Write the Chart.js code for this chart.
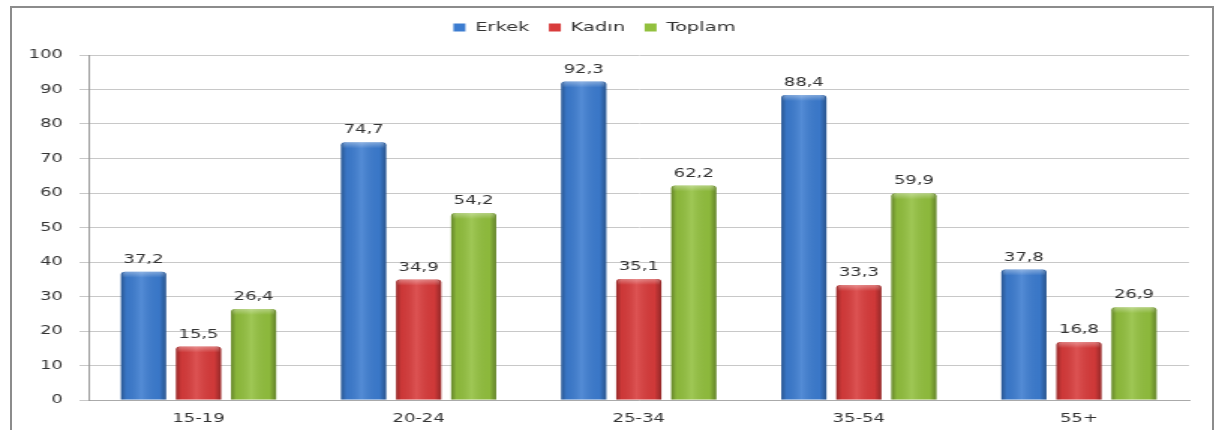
<!DOCTYPE html>
<html>
<head>
<meta charset="utf-8">
<script src="https://cdn.jsdelivr.net/npm/chart.js@4.4.1/dist/chart.umd.min.js"></script>
<style>
  html, body { margin: 0; padding: 0; background: #fff; overflow: hidden; }
  #frame { position: absolute; left: 10px; top: 6px; width: 1204px; height: 440px; border: 2px solid #8c8c8c; box-sizing: border-box; }
  #c { position: absolute; left: 0; top: 0; }
</style>
</head>
<body>
<div id="frame"></div>
<canvas id="c" width="813" height="430" style="width:1219px;height:430px"></canvas>
<script>
// the original picture is stretched sideways, so the canvas is drawn narrow and widened by CSS
const categories = ['15-19', '20-24', '25-34', '35-54', '55+'];
const erkek = [37.2, 74.7, 92.3, 88.4, 37.8];
const kadin = [15.5, 34.9, 35.1, 33.3, 16.8];
const toplam = [26.4, 54.2, 62.2, 59.9, 26.9];
const yTicks = [0, 10, 20, 30, 40, 50, 60, 70, 80, 90, 100];

const FONT = 'DejaVu Sans';
const TEXT = '#333';

// labels above bars, with a comma as decimal mark
const valueLabels = {
  id: 'valueLabels',
  afterDatasetsDraw(chart) {
    const ctx = chart.ctx;
    ctx.save();
    ctx.font = '12px "' + FONT + '"';
    ctx.fillStyle = TEXT;
    ctx.textAlign = 'center';
    ctx.textBaseline = 'bottom';
    chart.data.datasets.forEach((ds, i) => {
      chart.getDatasetMeta(i).data.forEach((bar, j) => {
        ctx.fillText(ds.data[j].toFixed(1).replace('.', ','), bar.x, bar.y - 6);
      });
    });
    ctx.restore();
  }
};

// shading so the bars look rounded
const barShade = {
  id: 'barShade',
  afterDatasetsDraw(chart) {
    const ctx = chart.ctx;
    ctx.save();
    chart.data.datasets.forEach((ds, i) => {
      chart.getDatasetMeta(i).data.forEach(bar => {
        const l = bar.x - bar.width / 2, r = bar.x + bar.width / 2;
        const g = ctx.createLinearGradient(l, 0, r, 0);
        g.addColorStop(0, 'rgba(0,0,0,0.3)');
        g.addColorStop(0.12, 'rgba(0,0,0,0.05)');
        g.addColorStop(0.45, 'rgba(255,255,255,0.12)');
        g.addColorStop(0.85, 'rgba(0,0,0,0.04)');
        g.addColorStop(1, 'rgba(0,0,0,0.32)');
        ctx.fillStyle = g;
        ctx.beginPath();
        ctx.roundRect(l, bar.y, bar.width, bar.base - bar.y, [3, 3, 0, 0]);
        ctx.fill();
        const t = ctx.createLinearGradient(0, bar.y, 0, bar.y + 6);
        t.addColorStop(0, 'rgba(255,255,255,0.35)');
        t.addColorStop(1, 'rgba(255,255,255,0)');
        ctx.fillStyle = t;
        ctx.beginPath();
        ctx.roundRect(l + 1, bar.y, bar.width - 2, 6, [3, 3, 0, 0]);
        ctx.fill();
      });
    });
    ctx.restore();
  }
};

// extra room under the legend
const legendGap = {
  id: 'legendGap',
  afterInit(chart) {
    const lg = chart.legend;
    const fit = lg.fit;
    lg.fit = function () { fit.call(this); this.height += 11; };
  }
};

new Chart(document.getElementById('c'), {
  type: 'bar',
  data: {
    labels: categories,
    datasets: [
      { label: 'Erkek', data: erkek, backgroundColor: '#3c7cd0' },
      { label: 'Kadın', data: kadin, backgroundColor: '#d83b3b' },
      { label: 'Toplam', data: toplam, backgroundColor: '#92c03e' }
    ]
  },
  options: {
    responsive: false,
    animation: false,
    devicePixelRatio: 1,
    layout: { padding: { top: 8, right: 20, left: 0, bottom: 0 } },
    datasets: {
      bar: { categoryPercentage: 0.75, barPercentage: 0.82, borderRadius: { topLeft: 3, topRight: 3 }, borderSkipped: 'bottom' }
    },
    scales: {
      x: {
        grid: { display: false },
        border: { color: '#aaa' },
        ticks: { color: TEXT, font: { family: FONT, size: 12 }, padding: 4 },
        afterFit: s => { s.height = 30; }
      },
      y: {
        min: 0,
        max: 100,
        afterBuildTicks: s => { s.ticks = yTicks.map(v => ({ value: v })); },
        grid: { color: '#c8c8c8', tickLength: 6 },
        border: { color: '#999' },
        ticks: { color: TEXT, font: { family: FONT, size: 12 }, padding: 11 },
        afterFit: s => { s.width = 59; }
      }
    },
    plugins: {
      legend: {
        position: 'top',
        labels: { color: TEXT, font: { family: FONT, size: 13 }, boxWidth: 8, boxHeight: 8, padding: 13 }
      },
      tooltip: { enabled: false }
    }
  },
  plugins: [legendGap, barShade, valueLabels]
});
</script>
</body>
</html>
